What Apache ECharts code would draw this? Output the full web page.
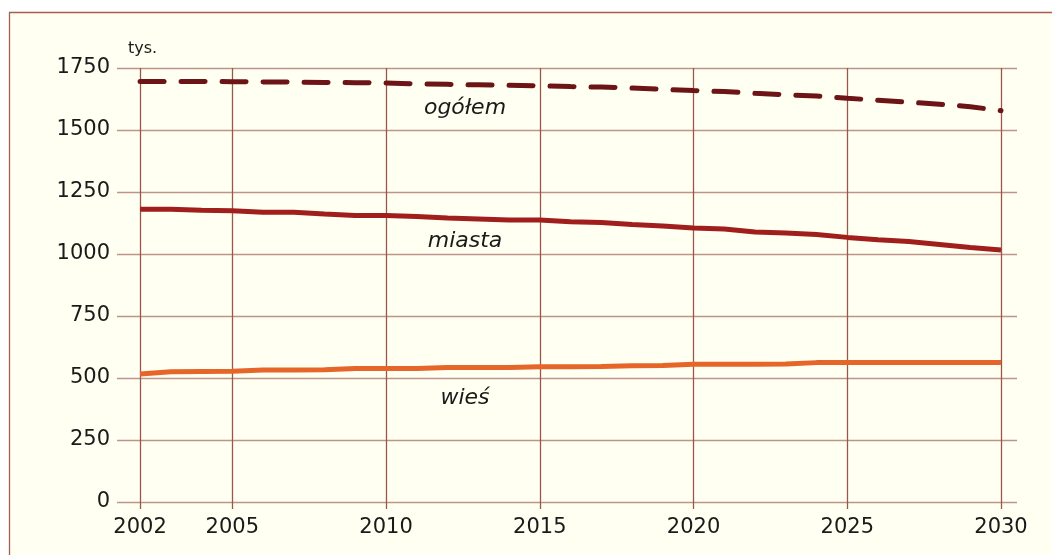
<!DOCTYPE html>
<html>
<head>
<meta charset="utf-8">
<script src="https://cdn.jsdelivr.net/npm/echarts@6/dist/echarts.min.js"></script>
<style>
  html, body { margin: 0; padding: 0; background: #ffffff; }
  #chart { width: 1052px; height: 555px; }
</style>
</head>
<body>
<div id="chart"></div>
<script>
// dane: ludność (tys.), prognoza 2002-2030
var years = [2002, 2003, 2004, 2005, 2006, 2007, 2008, 2009, 2010, 2011,
             2012, 2013, 2014, 2015, 2016, 2017, 2018, 2019, 2020, 2021,
             2022, 2023, 2024, 2025, 2026, 2027, 2028, 2029, 2030];
var ogolem = [1696, 1696, 1696, 1695, 1694, 1693, 1692, 1691, 1690, 1686,
              1684, 1682, 1680, 1678, 1675, 1673, 1669, 1664, 1659, 1655,
              1648, 1642, 1637, 1628, 1620, 1612, 1604, 1594, 1578];
var miasta = [1180, 1180, 1176, 1174, 1168, 1168, 1161, 1155, 1155, 1151,
              1145, 1141, 1137, 1137, 1130, 1127, 1119, 1113, 1105, 1101,
              1089, 1085, 1079, 1067, 1057, 1050, 1038, 1026, 1016];
var wies = [516, 525, 526, 527, 532, 532, 533, 538, 538, 538,
            542, 542, 542, 545, 545, 546, 549, 550, 555, 555,
            555, 556, 562, 562, 562, 562, 562, 562, 562];
var yearTicks = [2002, 2005, 2010, 2015, 2020, 2025, 2030];
var seriesNames = ['ogółem', 'miasta', 'wieś'];

function pairs(vals) {
    return years.map(function (y, i) { return [y, vals[i]]; });
}

var myChart = echarts.init(document.getElementById('chart'));

var labelFont = 'DejaVu Sans';

var option = {
    backgroundColor: '#ffffff',
    animation: false,
    textStyle: { fontFamily: labelFont },
    graphic: [
        {
            type: 'rect', z: -10,
            shape: { x: 9.5, y: 12.5, width: 1100, height: 600 },
            style: { fill: '#fffff2', stroke: '#a65d52', lineWidth: 1.3 }
        },
        {
            type: 'text', left: 128, top: 41,
            style: { text: 'tys.', fontSize: 16, fill: '#1a1a1a', fontFamily: labelFont }
        },
        {
            type: 'text', x: 465, y: 108,
            style: { text: seriesNames[0], fontSize: 22, fontStyle: 'italic', fill: '#1a1a1a',
                     align: 'center', verticalAlign: 'middle', fontFamily: labelFont }
        },
        {
            type: 'text', x: 465, y: 241,
            style: { text: seriesNames[1], fontSize: 22, fontStyle: 'italic', fill: '#1a1a1a',
                     align: 'center', verticalAlign: 'middle', fontFamily: labelFont }
        },
        {
            type: 'text', x: 465, y: 398,
            style: { text: seriesNames[2], fontSize: 22, fontStyle: 'italic', fill: '#1a1a1a',
                     align: 'center', verticalAlign: 'middle', fontFamily: labelFont }
        }
    ],
    grid: { left: 117, right: 35, top: 68, bottom: 53 },
    xAxis: {
        type: 'value',
        min: 2001.25,
        max: 2030.52,
        axisLine: { show: false },
        splitLine: { show: true, lineStyle: { color: '#9a5649', width: 1.3 } },
        axisTick: {
            show: true,
            inside: false,
            length: 7,
            customValues: yearTicks,
            lineStyle: { color: '#9a5649', width: 1.3 }
        },
        axisLabel: {
            customValues: yearTicks,
            fontSize: 21,
            color: '#1a1a1a',
            margin: 15,
            formatter: function (v) { return String(v); }
        }
    },
    yAxis: {
        type: 'value',
        min: 0,
        max: 1750,
        interval: 250,
        axisLine: { show: false },
        axisTick: { show: false },
        axisLabel: {
            fontSize: 21, color: '#1a1a1a', margin: 7,
            formatter: function (v) { return String(v); }
        },
        splitLine: { lineStyle: { color: '#bf9488', width: 1.3 } }
    },
    series: [
        {
            name: seriesNames[0],
            type: 'line',
            data: pairs(ogolem),
            showSymbol: false,
            lineStyle: { color: '#6c1416', width: 5, type: [24, 17], cap: 'round' },
            z: 5
        },
        {
            name: seriesNames[1],
            type: 'line',
            data: pairs(miasta),
            showSymbol: false,
            lineStyle: { color: '#a01f1c', width: 5 },
            z: 4
        },
        {
            name: seriesNames[2],
            type: 'line',
            data: pairs(wies),
            showSymbol: false,
            lineStyle: { color: '#e6662a', width: 5 },
            z: 3
        }
    ]
};

myChart.setOption(option);
</script>
</body>
</html>
